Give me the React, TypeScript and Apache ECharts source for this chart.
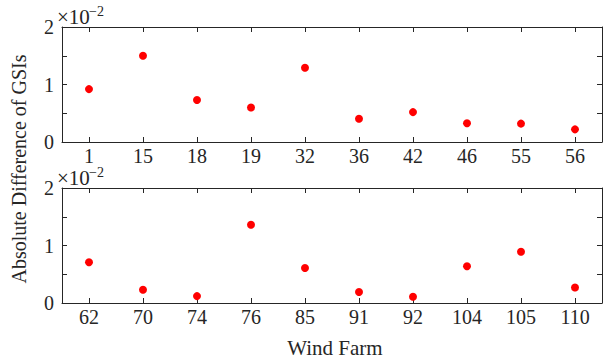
import React, { useEffect, useRef } from "react";
import * as echarts from "echarts";

// Wind farm IDs (categories)
const topFarms = ["1", "15", "18", "19", "32", "36", "42", "46", "55", "56"];
const bottomFarms = ["62", "70", "74", "76", "85", "91", "92", "104", "105", "110"];

// Absolute difference of GSIs (actual values)
const topValues = [0.0092, 0.0150, 0.0073, 0.0060, 0.0129, 0.00405, 0.0052, 0.00325, 0.0032, 0.0022];
const bottomValues = [0.0071, 0.0023, 0.0012, 0.0136, 0.0061, 0.0019, 0.0011, 0.0064, 0.0089, 0.0027];

// y axis range
const yMin = 0;
const yMax = 0.02;
const yStep = 0.005;

const FONT = "Liberation Serif";
const TXT = "#262626";

export default function App() {
  const ref = useRef<HTMLDivElement>(null);
  useEffect(() => {
    if (!ref.current) return;
    const chart = echarts.init(ref.current, null, { renderer: "svg" });
    const grids = [
      { left: 62, top: 27, width: 540, height: 115 },
      { left: 62, top: 188, width: 540, height: 115 },
    ];
    const lineStyle = { color: TXT, width: 1 };
    const xAx = (gi: number, data: string[], pos: "bottom" | "top") => ({
      gridIndex: gi,
      type: "category",
      data,
      position: pos,
      boundaryGap: true,
      axisLine: { show: true, onZero: false, lineStyle },
      axisTick: { show: true, inside: true, alignWithLabel: true, length: 5, lineStyle },
      axisLabel: {
        show: pos === "bottom",
        color: TXT,
        fontFamily: FONT,
        fontSize: 20,
        margin: 4,
      },
      splitLine: { show: false },
    });
    const yAx = (gi: number, pos: "left" | "right") => ({
      gridIndex: gi,
      type: "value",
      min: yMin,
      max: yMax,
      interval: yStep,
      position: pos,
      axisLine: { show: true, onZero: false, lineStyle },
      axisTick: { show: true, inside: true, length: 5, lineStyle },
      axisLabel: {
        show: pos === "left",
        color: TXT,
        fontFamily: FONT,
        fontSize: 20,
        margin: 8,
        formatter: (v: number) => {
          const s = Math.round(v * 200) / 2;
          return Number.isInteger(s) ? String(s) : "";
        },
      },
      splitLine: { show: false },
    });
    const mult = (yOff: number) => [
      {
        type: "text",
        x: 57,
        y: 17 + yOff,
        style: {
          text: "×10",
          fontFamily: FONT,
          fontSize: 21,
          fill: TXT,
          align: "left",
          verticalAlign: "middle",
        },
      },
      {
        type: "text",
        x: 89,
        y: 11 + yOff,
        style: {
          text: "−2",
          fontFamily: FONT,
          fontSize: 14,
          fill: TXT,
          align: "left",
          verticalAlign: "middle",
        },
      },
    ];
    const dot = { color: "#ff0000", opacity: 1 };
    chart.setOption({
      animation: false,
      backgroundColor: "#ffffff",
      grid: grids,
      xAxis: [
        xAx(0, topFarms, "bottom"),
        xAx(0, topFarms, "top"),
        xAx(1, bottomFarms, "bottom"),
        xAx(1, bottomFarms, "top"),
      ],
      yAxis: [yAx(0, "left"), yAx(0, "right"), yAx(1, "left"), yAx(1, "right")],
      series: [
        {
          type: "scatter",
          xAxisIndex: 0,
          yAxisIndex: 0,
          data: topValues,
          symbol: "circle",
          symbolSize: 8,
          itemStyle: dot,
        },
        {
          type: "scatter",
          xAxisIndex: 2,
          yAxisIndex: 2,
          data: bottomValues,
          symbol: "circle",
          symbolSize: 8,
          itemStyle: dot,
        },
      ],
      graphic: [
        ...mult(0),
        ...mult(161),
        {
          type: "text",
          x: 335,
          y: 348,
          style: {
            text: "Wind Farm",
            fontFamily: FONT,
            fontSize: 21,
            fill: TXT,
            align: "center",
            verticalAlign: "middle",
          },
        },
        {
          type: "text",
          x: 19,
          y: 169,
          rotation: Math.PI / 2,
          style: {
            text: "Absolute Difference of GSIs",
            fontFamily: FONT,
            fontSize: 20,
            fill: TXT,
            align: "center",
            verticalAlign: "middle",
          },
        },
      ],
    });
    return () => chart.dispose();
  }, []);
  return (
    <div
      ref={ref}
      style={{ position: "fixed", left: 0, top: 0, width: 612, height: 360, background: "#fff" }}
    />
  );
}
